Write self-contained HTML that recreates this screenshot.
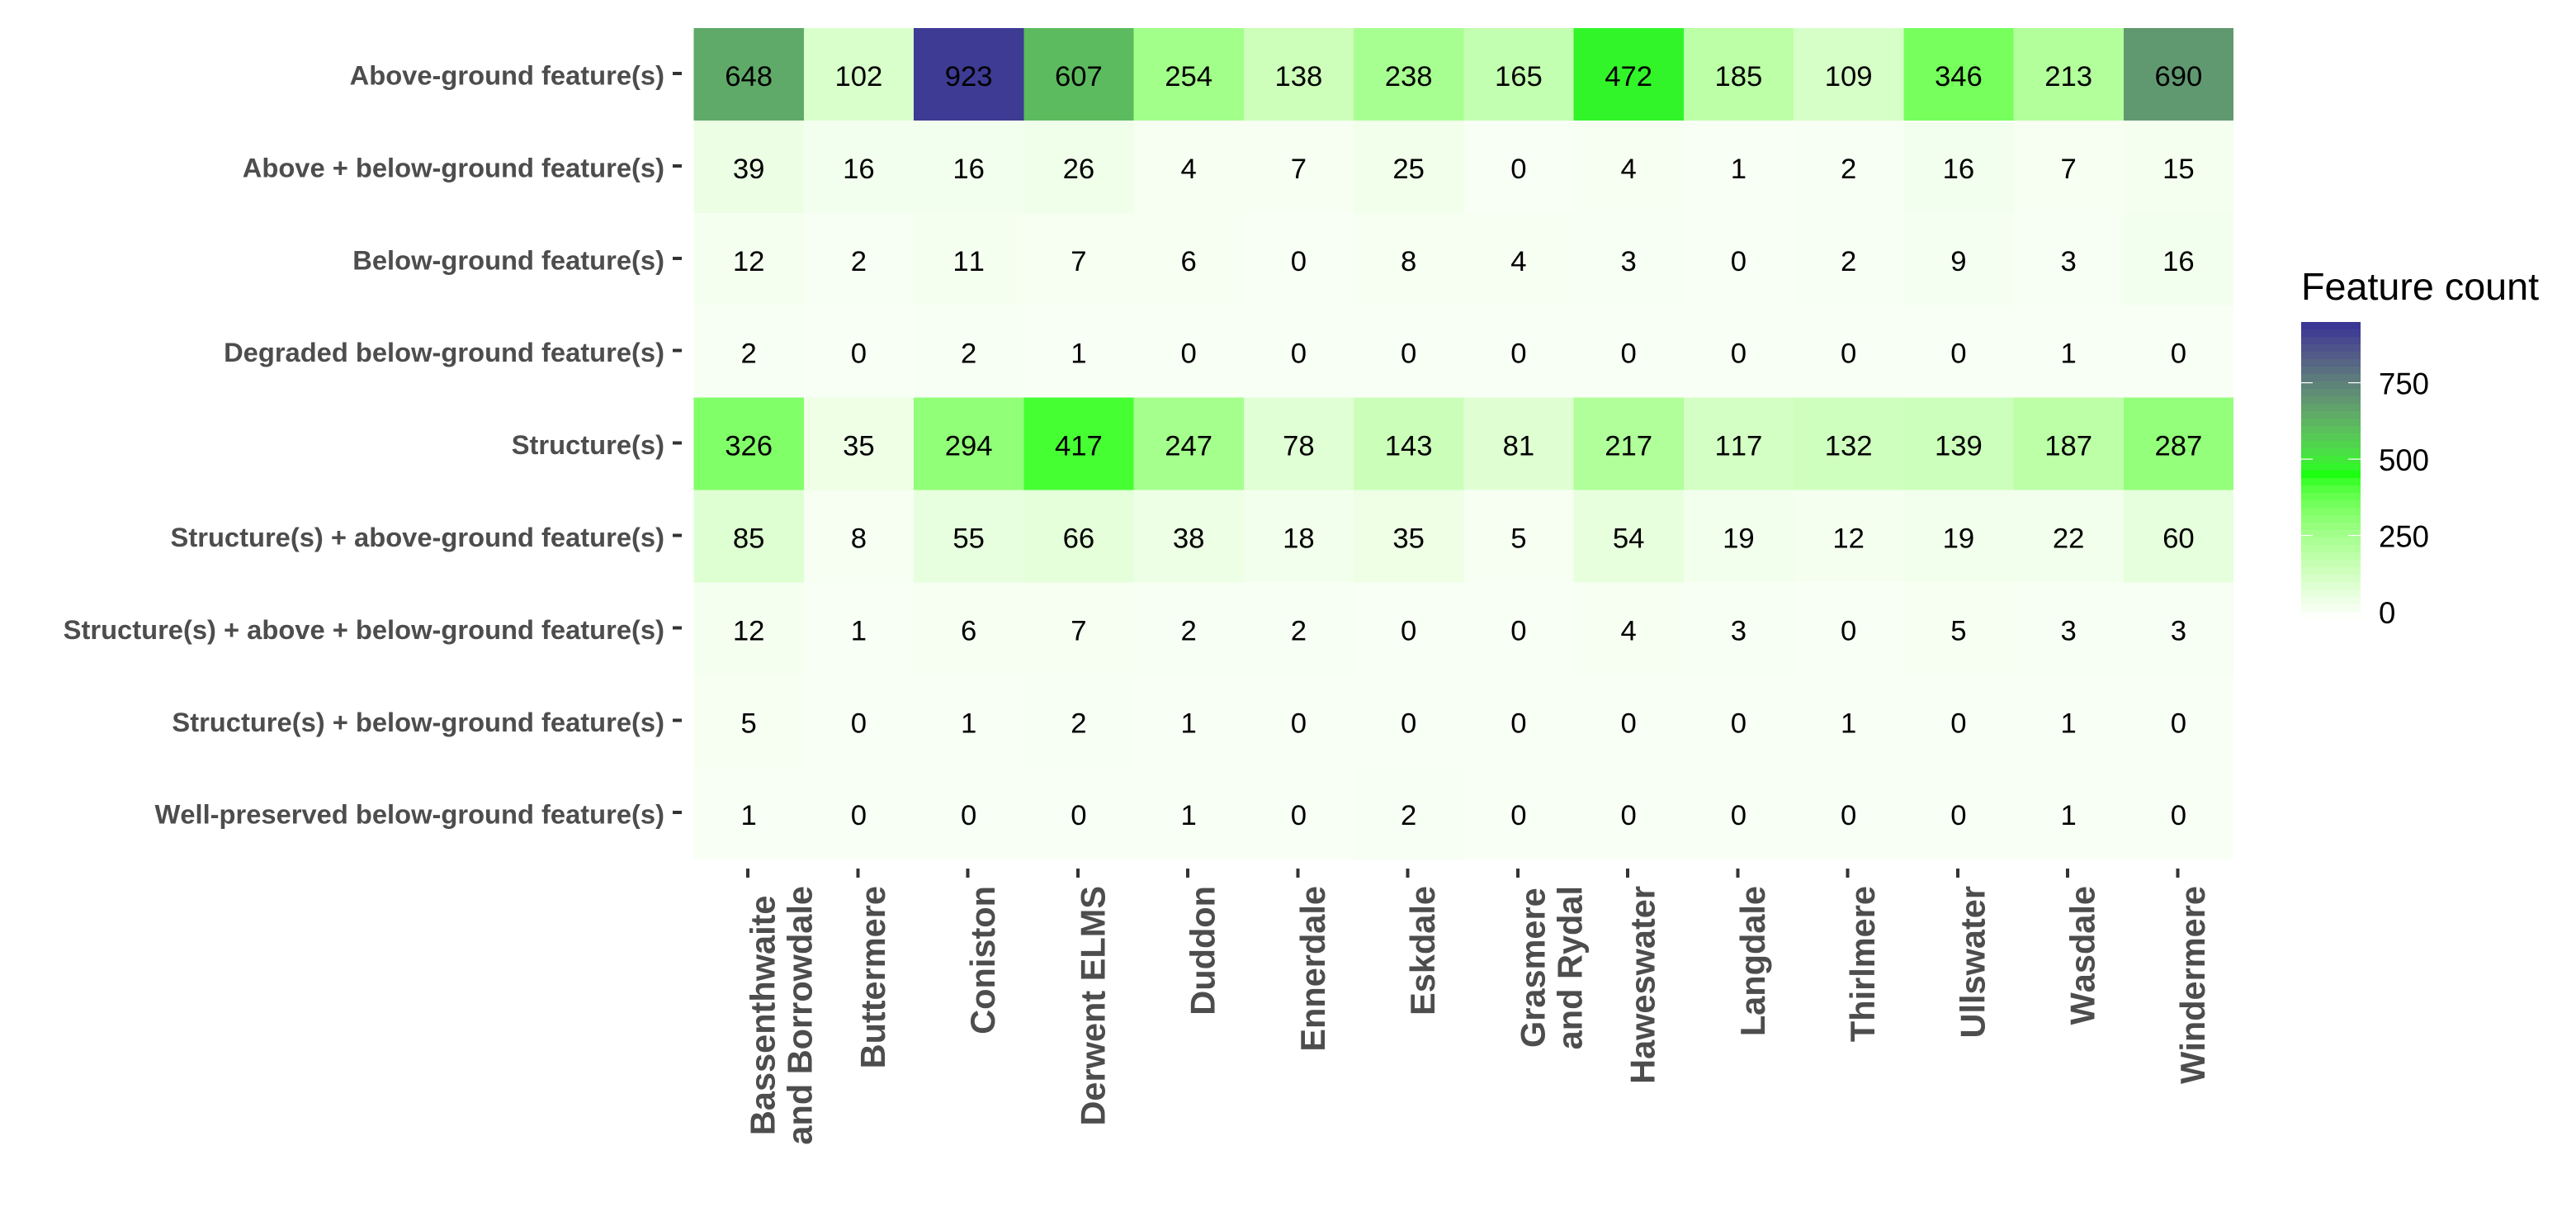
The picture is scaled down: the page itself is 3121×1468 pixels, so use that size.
<!DOCTYPE html>
<html>
<head>
<meta charset="utf-8">
<title>Feature count heatmap</title>
<style>
html,body{margin:0;padding:0;background:#fff;}
svg{display:block;}
text{font-family:"Liberation Sans",Arial,sans-serif;font-kerning:none;}
</style>
</head>
<body>
<svg id="chart" xmlns="http://www.w3.org/2000/svg" width="3121" height="1468" viewBox="0 0 3121 1468"></svg>
<script>
const columnLabels = [
  ["Bassenthwaite","and Borrowdale"],["Buttermere"],["Coniston"],["Derwent ELMS"],["Duddon"],
  ["Ennerdale"],["Eskdale"],["Grasmere","and Rydal"],["Haweswater"],["Langdale"],
  ["Thirlmere"],["Ullswater"],["Wasdale"],["Windermere"]
];
const rowLabels = [
  "Above-ground feature(s)",
  "Above + below-ground feature(s)",
  "Below-ground feature(s)",
  "Degraded below-ground feature(s)",
  "Structure(s)",
  "Structure(s) + above-ground feature(s)",
  "Structure(s) + above + below-ground feature(s)",
  "Structure(s) + below-ground feature(s)",
  "Well-preserved below-ground feature(s)"
];
const aboveGround    = [648,102,923,607,254,138,238,165,472,185,109,346,213,690];
const aboveBelow     = [39,16,16,26,4,7,25,0,4,1,2,16,7,15];
const belowGround    = [12,2,11,7,6,0,8,4,3,0,2,9,3,16];
const degradedBelow  = [2,0,2,1,0,0,0,0,0,0,0,0,1,0];
const structures     = [326,35,294,417,247,78,143,81,217,117,132,139,187,287];
const structAbove    = [85,8,55,66,38,18,35,5,54,19,12,19,22,60];
const structAboveBelow = [12,1,6,7,2,2,0,0,4,3,0,5,3,3];
const structBelow    = [5,0,1,2,1,0,0,0,0,0,1,0,1,0];
const wellPreserved  = [1,0,0,0,1,0,2,0,0,0,0,0,1,0];
const legendTicks = [0,250,500,750];
const legendTitle = "Feature count";
const colorDomain = [-24,448,930];
const colorRange = ["#ffffff","#1aff10","#3a3894"];

const matrix = [aboveGround,aboveBelow,belowGround,degradedBelow,structures,structAbove,structAboveBelow,structBelow,wellPreserved];
const svg = document.getElementById('chart');
const NS = 'http://www.w3.org/2000/svg';
const panel = {left:840.5,top:34,bandX:133.25,bandY:111.9};
const legendBar = {x:2788,w:72,top:390,bottom:750};
function xLeft(i){return panel.left+panel.bandX*i;}
function xCenter(i){return xLeft(i)+panel.bandX/2;}
function yTop(j){return panel.top+panel.bandY*j;}
function yCenter(j){return yTop(j)+panel.bandY/2;}
function legendY(v){return 741-v*0.37;}
function legendValue(y){return (741-y)/0.37;}
function hexToLab(hex){
  const n=parseInt(hex.slice(1),16);
  const lin=[n>>16&255,n>>8&255,n&255].map(c=>{c/=255;return c<=0.04045?c/12.92:Math.pow((c+0.055)/1.055,2.4);});
  const X=(0.4124564*lin[0]+0.3575761*lin[1]+0.1804375*lin[2])/0.95047;
  const Y=0.2126729*lin[0]+0.7151522*lin[1]+0.0721750*lin[2];
  const Z=(0.0193339*lin[0]+0.1191920*lin[1]+0.9503041*lin[2])/1.08883;
  const f=t=>t>0.008856?Math.cbrt(t):7.787*t+16/116;
  return [116*f(Y)-16,500*(f(X)-f(Y)),200*(f(Y)-f(Z))];
}
function labToCss(lab){
  const fy=(lab[0]+16)/116,fx=fy+lab[1]/500,fz=fy-lab[2]/200;
  const g=t=>t*t*t>0.008856?t*t*t:(t-16/116)/7.787;
  const X=g(fx)*0.95047,Y=g(fy),Z=g(fz)*1.08883;
  const rgb=[3.2404542*X-1.5371385*Y-0.4985314*Z,-0.9692660*X+1.8760108*Y+0.0415560*Z,0.0556434*X-0.2040259*Y+1.0572252*Z];
  const c=rgb.map(v=>{v=Math.max(0,Math.min(1,v));v=v<=0.0031308?12.92*v:1.055*Math.pow(v,1/2.4)-0.055;return Math.round(v*255);});
  return 'rgb('+c.join(',')+')';
}
function colorScale(v){
  let k=0;
  if(v>colorDomain[1])k=1;
  const t=Math.max(0,Math.min(1,(v-colorDomain[k])/(colorDomain[k+1]-colorDomain[k])));
  const a=hexToLab(colorRange[k]),b=hexToLab(colorRange[k+1]);
  return labToCss([a[0]+(b[0]-a[0])*t,a[1]+(b[1]-a[1])*t,a[2]+(b[2]-a[2])*t]);
}
function make(tag,attrs,parent){
  const el=document.createElementNS(NS,tag);
  for(const k in attrs)el.setAttribute(k,attrs[k]);
  (parent||svg).appendChild(el);
  return el;
}
matrix.forEach((row,j)=>{
  row.forEach((v,i)=>{
    const cell=make('rect',{x:xLeft(i),y:yTop(j),width:panel.bandX,height:panel.bandY,fill:colorScale(v),'shape-rendering':'crispEdges'});
    
    
  });
});
matrix.forEach((row,j)=>{
  row.forEach((v,i)=>{
    const t=make('text',{x:xCenter(i),y:yCenter(j)+14,'text-anchor':'middle','font-size':34.7,fill:'#000'});
    t.textContent=v;
    
    
  });
});
rowLabels.forEach((lab,j)=>{
  const tick=make('rect',{x:815,y:yCenter(j)-3,width:11,height:4,fill:'#333','shape-rendering':'crispEdges'});
  
  
  const t=make('text',{x:805,y:yCenter(j)+12.5,'text-anchor':'end','font-size':32.7,'font-weight':'bold',fill:'#4d4d4d'});
  t.textContent=lab;
  
  
});
columnLabels.forEach((lines,i)=>{
  const cx=xCenter(i)-1;
  const tick=make('rect',{x:cx-2,y:1052,width:4,height:11,fill:'#333','shape-rendering':'crispEdges'});
  
  
  const nodes=lines.map((line,n)=>{
    const t=make('text',{'font-size':41.5,'font-weight':'bold',fill:'#4d4d4d','text-anchor':'middle'});
    t.textContent=line;
    
    
    return t;
  });
  const widest=Math.max(...nodes.map(t=>t.getComputedTextLength()));
  nodes.forEach((t,n)=>{
    t.setAttribute('transform','translate('+(cx+32.5+45*n)+','+(1073+widest/2)+') rotate(-90)');
  });
});
const title=make('text',{x:2788,y:363,'font-size':46.7,fill:'#000'});
title.textContent=legendTitle;


const legendBins=40;
for(let b=0;b<legendBins;b++){
  const h=(legendBar.bottom-legendBar.top)/legendBins;
  const y=legendBar.top+h*b;
  const r=make('rect',{x:legendBar.x,y:y,width:legendBar.w,height:h+0.5,fill:colorScale(legendValue(y+h/2)),'shape-rendering':'crispEdges'});
  
  
}
legendTicks.forEach(v=>{
  const y=legendY(v);
  if(v>0){
    const a=make('rect',{x:legendBar.x,y:y-0.5,width:14,height:1.2,fill:'#fff'});
    
    
    const c=make('rect',{x:legendBar.x+legendBar.w-15,y:y-0.5,width:15,height:1.2,fill:'#fff'});
    
    
  }
  const t=make('text',{x:2882,y:y+14,'font-size':36.6,fill:'#000'});
  t.textContent=v;
  
  
});
</script>
</body>
</html>
